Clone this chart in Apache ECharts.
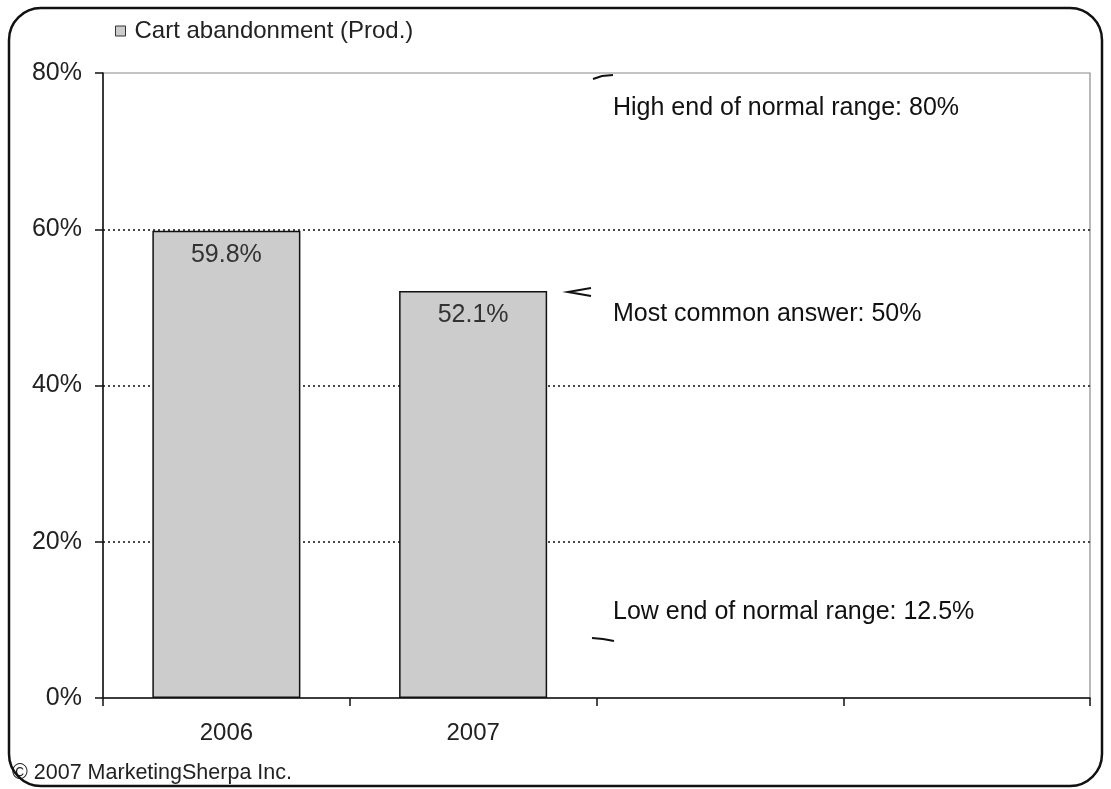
<!DOCTYPE html>
<html>
<head>
<meta charset="utf-8">
<script src="https://cdn.jsdelivr.net/npm/echarts@6/dist/echarts.min.js"></script>
<style>
html,body{margin:0;padding:0;background:#fff;}
#chart{width:1111px;height:789px;}
</style>
</head>
<body>
<div id="chart"></div>
<script>
const categories = ['2006', '2007', '', ''];
const seriesName = 'Cart abandonment (Prod.)';
const values = [59.8, 52.1, null, null];
const yTicks = [0, 20, 40, 60, 80];
const notes = ['High end of normal range: 80%', 'Most common answer: 50%', 'Low end of normal range: 12.5%'];
const credit = '\u00a9 2007 MarketingSherpa Inc.';

const FONT = '"Liberation Sans", Arial, Helvetica, sans-serif';
const chart = echarts.init(document.getElementById('chart'));
chart.setOption({
  animation: false,
  backgroundColor: '#fff',
  textStyle: { fontFamily: FONT },
  legend: {
    show: true,
    left: 110, top: 14,
    itemWidth: 10, itemHeight: 10, itemGap: 6,
    icon: 'rect',
    textStyle: { fontSize: 24, color: '#222', fontFamily: FONT, padding: [0, 0, 0, 4] },
    data: [{ name: seriesName, itemStyle: { color: '#cccccc', borderColor: '#333', borderWidth: 1 } }]
  },
  grid: { left: 103, right: 21, top: 73, bottom: 91, show: true, borderColor: '#8a8a8a', borderWidth: 1.2, backgroundColor: 'transparent' },
  xAxis: {
    type: 'category',
    data: categories,
    boundaryGap: true,
    axisLine: { lineStyle: { color: '#111', width: 1.5 } },
    axisTick: { show: true, interval: 0, length: 8, lineStyle: { color: '#111', width: 1.5 } },
    axisLabel: { interval: 0, margin: 23, fontSize: 24, color: '#222', fontFamily: FONT }
  },
  yAxis: {
    type: 'value',
    min: 0, max: 80, interval: 20,
    axisLine: { show: true, lineStyle: { color: '#111', width: 1.5 } },
    axisTick: { show: true, length: 8, lineStyle: { color: '#111', width: 1.5 } },
    axisLabel: { formatter: v => yTicks.includes(v) ? v + '%' : '', margin: 21, fontSize: 25, color: '#222', fontFamily: FONT },
    splitLine: { show: true, showMinLine: false, showMaxLine: false, lineStyle: { color: '#111', type: [2, 3], width: 1.5 } }
  },
  series: [{
    name: seriesName,
    type: 'bar',
    data: values,
    barWidth: '60%',
    itemStyle: { color: '#cccccc', borderColor: '#111', borderWidth: 1.5 },
    label: { show: true, position: 'insideTop', distance: 12, formatter: p => p.value.toFixed(1) + '%', fontSize: 25, color: '#333', fontFamily: FONT }
  }],
  graphic: [
    { type: 'rect', shape: { x: 9, y: 8, width: 1093, height: 778, r: 32 }, style: { fill: 'none', stroke: '#111', lineWidth: 2.5 }, z: 100 },
    { type: 'text', x: 613, y: 108, style: { text: notes[0], font: '25px ' + FONT, fill: '#111', verticalAlign: 'middle' } },
    { type: 'text', x: 613, y: 314, style: { text: notes[1], font: '25px ' + FONT, fill: '#111', verticalAlign: 'middle' } },
    { type: 'text', x: 613, y: 612, style: { text: notes[2], font: '25px ' + FONT, fill: '#111', verticalAlign: 'middle' } },
    { type: 'text', x: 12, y: 773, style: { text: credit, font: '21.5px ' + FONT, fill: '#222', verticalAlign: 'middle' } },
    { type: 'polyline', shape: { points: [[593, 79], [602, 76], [613, 75]] }, style: { stroke: '#111', lineWidth: 2, fill: 'none' } },
    { type: 'polyline', shape: { points: [[591, 288], [568, 292], [591, 296]] }, style: { stroke: '#111', lineWidth: 2, fill: 'none' } },
    { type: 'polyline', shape: { points: [[592, 638], [603, 639], [614, 641]] }, style: { stroke: '#111', lineWidth: 2, fill: 'none' } }
  ]
});
</script>
</body>
</html>
